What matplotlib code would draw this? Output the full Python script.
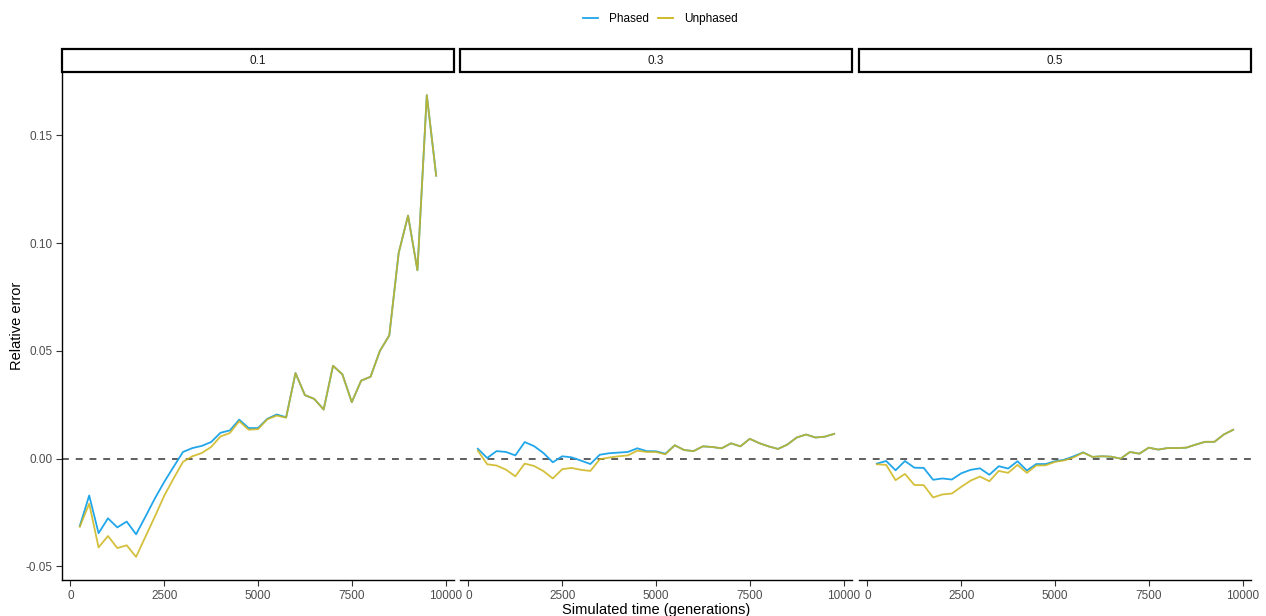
import numpy as np
import matplotlib
matplotlib.use("Agg")
import matplotlib.pyplot as plt
from matplotlib.lines import Line2D
from matplotlib.patches import Rectangle

plt.rcParams['font.family'] = ['Liberation Sans', 'DejaVu Sans']

# Simulated time points (generations)
time = np.arange(250, 10000, 250)

facets = ["0.1", "0.3", "0.5"]

phased_01 = [-0.0312, -0.0171, -0.0346, -0.0277, -0.0319, -0.0292, -0.0351, -0.0269,
             -0.0185, -0.0108, -0.0038, 0.0031, 0.0049, 0.0059, 0.0077, 0.0120,
             0.0131, 0.0181, 0.0142, 0.0142, 0.0185, 0.0205, 0.0192, 0.0397,
             0.0295, 0.0277, 0.0228, 0.0431, 0.0391, 0.0262, 0.0362, 0.0380,
             0.0500, 0.0572, 0.0954, 0.1128, 0.0874, 0.1687, 0.1313]
unphased_01 = [-0.0316, -0.0209, -0.0412, -0.0359, -0.0415, -0.0402, -0.0456, -0.0362,
               -0.0269, -0.0172, -0.0092, -0.0015, 0.0011, 0.0026, 0.0054, 0.0103,
               0.0119, 0.0174, 0.0134, 0.0137, 0.0183, 0.0200, 0.0190, 0.0397,
               0.0295, 0.0277, 0.0228, 0.0431, 0.0391, 0.0262, 0.0362, 0.0380,
               0.0500, 0.0572, 0.0954, 0.1128, 0.0874, 0.1687, 0.1313]

phased_03 = [0.0046, 0.0003, 0.0035, 0.0031, 0.0015, 0.0077, 0.0058, 0.0026,
             -0.0017, 0.0011, 0.0006, -0.0009, -0.0025, 0.0018, 0.0025, 0.0028,
             0.0031, 0.0048, 0.0035, 0.0034, 0.0023, 0.0062, 0.0040, 0.0035,
             0.0057, 0.0054, 0.0048, 0.0071, 0.0057, 0.0092, 0.0072, 0.0057,
             0.0045, 0.0065, 0.0098, 0.0112, 0.0098, 0.0102, 0.0115]
unphased_03 = [0.0037, -0.0026, -0.0032, -0.0051, -0.0082, -0.0023, -0.0034, -0.0058,
               -0.0092, -0.0049, -0.0043, -0.0052, -0.0057, -0.0003, 0.0005, 0.0011,
               0.0015, 0.0037, 0.0031, 0.0031, 0.0020, 0.0062, 0.0040, 0.0035,
               0.0057, 0.0054, 0.0048, 0.0071, 0.0057, 0.0092, 0.0072, 0.0057,
               0.0045, 0.0065, 0.0098, 0.0112, 0.0098, 0.0102, 0.0115]

phased_05 = [-0.0023, -0.0011, -0.0054, -0.0011, -0.0042, -0.0043, -0.0098, -0.0092,
             -0.0097, -0.0068, -0.0052, -0.0045, -0.0075, -0.0035, -0.0046, -0.0012,
             -0.0055, -0.0025, -0.0025, -0.0012, -0.0005, 0.0011, 0.0029, 0.0008,
             0.0011, 0.0009, 0.0000, 0.0031, 0.0023, 0.0051, 0.0042, 0.0049,
             0.0049, 0.0051, 0.0065, 0.0078, 0.0078, 0.0112, 0.0134]
unphased_05 = [-0.0026, -0.0029, -0.0100, -0.0071, -0.0122, -0.0123, -0.0180, -0.0166,
               -0.0162, -0.0131, -0.0102, -0.0083, -0.0105, -0.0057, -0.0066, -0.0029,
               -0.0066, -0.0032, -0.0031, -0.0015, -0.0008, 0.0006, 0.0028, 0.0008,
               0.0011, 0.0009, 0.0000, 0.0031, 0.0023, 0.0051, 0.0042, 0.0049,
               0.0049, 0.0051, 0.0065, 0.0078, 0.0078, 0.0112, 0.0134]

phased = [phased_01, phased_03, phased_05]
unphased = [unphased_01, unphased_03, unphased_05]

x_ticks = [0, 2500, 5000, 7500, 10000]
y_ticks = [-0.05, 0.00, 0.05, 0.10, 0.15]
y_tick_labels = ["-0.05", "0.00", "0.05", "0.10", "0.15"]

blue = "#22A6EA"
yellow = "#CDB51A"
text_grey = "#4D4D4D"

W, H = 1266, 616
fig = plt.figure(figsize=(W / 100, H / 100), dpi=100)

panel_left = [62, 460, 859]
panel_w = 392
top_px, bottom_px = 72, 580
strip_top = 49

all_vals = np.concatenate([np.ravel(phased), np.ravel(unphased)])
ymin, ymax = all_vals.min(), all_vals.max()
yr = ymax - ymin
xr = time.max() - time.min()

for i, facet in enumerate(facets):
    l = panel_left[i] / W
    b = 1 - bottom_px / H
    ax = fig.add_axes([l, b, panel_w / W, (bottom_px - top_px) / H])
    ax.axhline(0, color="#333333", lw=1.1, ls=(0, (4.5, 4.5)), zorder=1)
    ax.plot(time, phased[i], color=blue, lw=1.3, zorder=2)
    ax.plot(time, unphased[i], color=yellow, lw=1.3, alpha=0.85, zorder=3)
    ax.set_xlim(time.min() - 0.05 * xr, time.max() + 0.05 * xr)
    ax.set_ylim(ymin - 0.05 * yr, ymax + 0.05 * yr)
    ax.set_xticks(x_ticks)
    ax.set_xticklabels([str(t) for t in x_ticks])
    for s in ["top", "right"]:
        ax.spines[s].set_visible(False)
    ax.spines["bottom"].set_linewidth(1.0)
    ax.tick_params(axis="both", length=4, width=0.8, colors="#333333",
                   labelcolor=text_grey, labelsize=8.5, pad=3)
    if i == 0:
        ax.set_yticks(y_ticks)
        ax.set_yticklabels(y_tick_labels)
        ax.spines["left"].set_linewidth(1.0)
        ax.set_ylabel("Relative error", fontsize=10.5, labelpad=1)
    else:
        ax.spines["left"].set_visible(False)
        ax.set_yticks([])
    if i == 1:
        ax.set_xlabel("Simulated time (generations)", fontsize=10.5, labelpad=1)

    # facet strip
    sax = fig.add_axes([l, 1 - top_px / H, panel_w / W, (top_px - strip_top) / H])
    sax.set_xlim(0, 1)
    sax.set_ylim(0, 1)
    sax.axis("off")
    sax.add_patch(Rectangle((0, 0), 1, 1, transform=sax.transAxes, fill=False,
                            edgecolor="black", lw=1.6, clip_on=False))
    sax.text(0.5, 0.5, facet, ha="center", va="center", fontsize=8.5, color="#1A1A1A")

handles = [Line2D([], [], color=blue, lw=1.3),
           Line2D([], [], color=yellow, lw=1.3)]
fig.legend(handles, ["Phased", "Unphased"], loc="center", bbox_to_anchor=(660 / W, 1 - 19 / H),
           ncol=2, frameon=False, fontsize=8.5, handlelength=1.3, columnspacing=0.8,
           handletextpad=0.9)

fig.savefig("out.png", dpi=100)
